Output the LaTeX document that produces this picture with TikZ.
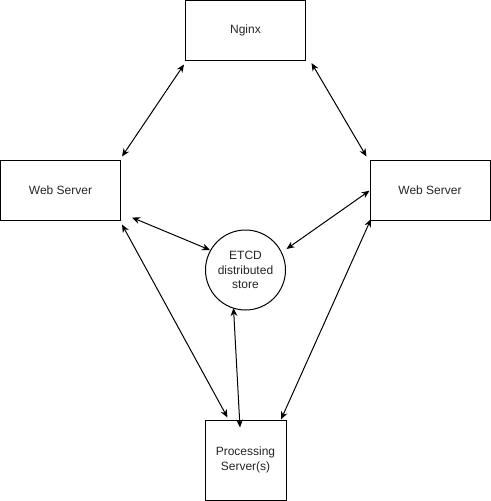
\documentclass[tikz,border=0pt]{standalone}
\usepackage{fontspec}
\setmainfont{Liberation Sans}
\usetikzlibrary{calc,arrows.meta}
\begin{document}
\begin{tikzpicture}[x=0.75pt,y=-0.75pt,
  box/.style={draw=black,line width=0.75pt,fill=white,inner sep=0pt,align=center,font=\fontsize{9pt}{11pt}\selectfont,text=black!85},
  conn/.style={line width=0.75pt,{Stealth[length=6pt,width=5pt]}-{Stealth[length=6pt,width=5pt]}}]
\useasboundingbox (0,0) rectangle (491,501);
\node[box,minimum width=90pt,minimum height=45pt] (nginx) at (245.5,30.5) {Nginx};
\node[box,minimum width=90pt,minimum height=45pt] (lws) at (60.5,190) {Web Server};
\node[box,minimum width=90pt,minimum height=45pt] (rws) at (430,190) {Web Server};
\node[box,circle,minimum size=60pt] (etcd) at (245.5,270) {ETCD\\distributed\\store};
\node[box,minimum width=60.75pt,minimum height=60pt] (proc) at (245.5,460) {Processing\\Server(s)};
\draw[conn] ($(nginx.south west)+(-1,3.5)$) -- ($(lws.north east)+(1,-3)$);
\draw[conn] ($(nginx.south east)+(5.5,2)$) -- ($(rws.north west)+(-3,-3)$);
\draw[conn] ($(lws.south east)+(11,-3)$) -- ($(etcd.center)+(-35.5,-20)$);
\draw[conn] ($(rws.west)+(0,0.7)$) -- ($(etcd.center)+(41,-21)$);
\draw[conn] ($(lws.south east)+(1,4)$) -- ($(proc.north west)+(23,-2)$);
\draw[conn] ($(rws.south west)+(1.5,-1.5)$) -- ($(proc.north east)+(-5.5,0)$);
\draw[conn] ($(etcd.center)+(-12,38)$) -- ($(proc.north)+(-5.5,8)$);
\end{tikzpicture}
\end{document}
